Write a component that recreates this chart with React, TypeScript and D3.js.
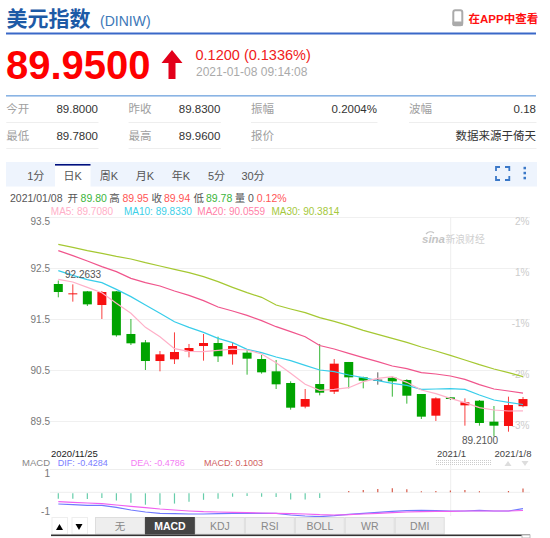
import React from "react";
import * as d3 from "d3";

const opens = [92.196,92.013,92.052,91.784,92.052,91.216,91.052,90.686,90.719,90.876,90.980,91.039,90.817,90.850,90.725,90.484,90.255,89.791,90.235,90.085,90.667,90.366,90.320,90.359,90.314,90.039,89.614,89.974,89.817,89.908,89.497,89.412,89.80];
const closes = [92.039,92.013,91.797,92.039,91.190,91.033,90.686,90.817,90.863,90.941,91.039,90.778,90.980,90.732,90.464,90.229,89.771,89.941,90.065,90.634,90.366,90.301,90.320,90.287,90.006,89.595,89.954,89.941,89.876,89.471,89.418,89.823,89.94];
const highs = [92.2633,92.189,92.059,92.059,92.059,91.510,91.098,90.882,91.248,91.020,91.216,91.163,91.046,90.902,90.804,90.706,90.288,90.137,91.020,90.725,90.667,90.379,90.464,90.379,90.327,90.039,89.974,89.980,89.954,89.921,89.804,89.987,89.98];
const lows = [91.935,91.850,91.765,91.510,91.163,91.0,90.510,90.484,90.627,90.758,90.693,90.667,90.614,90.418,90.438,90.137,89.732,89.758,90.013,90.039,90.150,90.150,90.222,89.987,89.850,89.549,89.510,89.921,89.418,89.418,89.21,89.300,89.78];
const ma5 = [92.288,92.235,92.131,92.026,91.817,91.621,91.346,91.163,90.928,90.876,90.869,90.895,90.921,90.902,90.824,90.654,90.444,90.229,90.111,90.131,90.163,90.281,90.346,90.379,90.268,90.118,90.046,89.954,89.869,89.771,89.725,89.706,89.708];
const ma10 = [92.457,92.366,92.281,92.222,92.091,91.948,91.784,91.621,91.457,91.346,91.248,91.131,91.046,90.915,90.850,90.765,90.693,90.601,90.510,90.477,90.412,90.359,90.301,90.248,90.209,90.131,90.137,90.144,90.131,90.020,89.921,89.876,89.833];
const ma20 = [92.850,92.752,92.647,92.536,92.438,92.307,92.222,92.157,92.059,91.974,91.869,91.745,91.667,91.582,91.477,91.359,91.261,91.163,90.990,90.921,90.837,90.752,90.673,90.588,90.536,90.457,90.431,90.392,90.327,90.222,90.137,90.098,90.056];
const ma30 = [92.974,92.915,92.850,92.797,92.738,92.686,92.614,92.549,92.484,92.418,92.340,92.242,92.131,92.026,91.935,91.784,91.706,91.634,91.536,91.464,91.379,91.288,91.209,91.131,91.052,90.961,90.882,90.797,90.706,90.614,90.529,90.457,90.381];
const macdBars = [-0.14,-0.14,-0.15,-0.12,-0.19,-0.25,-0.30,-0.30,-0.27,-0.22,-0.17,-0.14,-0.09,-0.07,-0.09,-0.10,-0.16,-0.16,-0.12,0,0.035,0.06,0.09,0.105,0.08,0.03,0.035,0.05,0.06,0.03,0,0.035,0.1003];
const dif = [-0.307,-0.325,-0.342,-0.342,-0.395,-0.465,-0.518,-0.553,-0.561,-0.570,-0.570,-0.561,-0.553,-0.553,-0.553,-0.553,-0.596,-0.623,-0.640,-0.614,-0.579,-0.553,-0.526,-0.5,-0.482,-0.474,-0.482,-0.491,-0.491,-0.474,-0.491,-0.491,-0.4284];
const dea = [-0.246,-0.263,-0.281,-0.298,-0.333,-0.368,-0.404,-0.439,-0.465,-0.491,-0.509,-0.518,-0.526,-0.535,-0.544,-0.553,-0.561,-0.570,-0.588,-0.596,-0.588,-0.570,-0.553,-0.535,-0.518,-0.509,-0.5,-0.5,-0.491,-0.491,-0.491,-0.491,-0.4786];

const priceTicks = [93.5, 92.5, 91.5, 90.5, 89.5];
const pctTicks = ["2%", "1%", "-1%", "-2%", "-3%"];
const periodTabs = ["1分", "日K", "周K", "月K", "年K", "5分", "30分"];
const indicatorTabs = ["无", "MACD", "KDJ", "RSI", "BOLL", "WR", "DMI"];
const statsRow1 = [["今开", "89.8000"], ["昨收", "89.8300"], ["振幅", "0.2004%"], ["波幅", "0.18"]];
const statsRow2 = [["最低", "89.7800"], ["最高", "89.9600"], ["报价", "数据来源于倚天"]];
const infoParts = [["2021/01/08", "#555"], ["开", "#555"], ["89.80", "#3cb43c"], ["高", "#555"], ["89.95", "#f55"], ["收", "#555"], ["89.94", "#f55"], ["低", "#555"], ["89.78", "#3cb43c"], ["量", "#555"], ["0", "#555"], ["0.12%", "#f55"]];
const infoX = [10, 67.5, 80.6, 109.3, 122.4, 151.5, 164, 193.4, 206, 234.8, 248, 256.8];
const maLabels = [["MA5: 89.7080", "#ffb0c8"], ["MA10: 89.8330", "#3ccfe8"], ["MA20: 90.0559", "#ff7fa8"], ["MA30: 90.3814", "#a5c83c"]];
const maLabelX = [50.8, 124, 197.3, 271.5];

const FONT = "'Liberation Sans', 'Noto Sans CJK SC', sans-serif";
const UP = "#f70f0f";
const DOWN = "#00a300";

const idx = d3.range(opens.length);
const x = d3.scalePoint<number>().domain(idx).range([58.3, 523]);
const y = d3.scaleLinear().domain([89.5, 93.5]).range([421.5, 217.5]);
const ym = d3.scaleLinear().domain([-0.62, 0.6]).range([515.9, 469.5]);
const priceLine = d3.line<number>().x((_, i) => x(i) as number).y((d) => y(d));
const macdLine = d3.line<number>().x((_, i) => x(i) as number).y((d) => ym(d));
const periodX = d3.scalePoint<number>().domain(d3.range(4)).range([35.7, 145]);
const tabX = d3.scaleLinear().domain([0, 7]).range([95, 444.7]);

const maSeries: [number[], string][] = [[ma30, "#a5c832"], [ma20, "#f0558c"], [ma10, "#38cdea"], [ma5, "#ffb0c8"]];

export default function App() {
  const tabCentres = [35.7, 72.7, 109, 145, 181, 216.5, 253];
  const statLabelX = [6.3, 128.6, 251, 409];
  const statValueX = [98, 220.4, 377, 536];
  const corner = "M496 171V167H500M505 167H509.3V171M509.3 176V180H505M500 180H496V176";
  return (
    <svg width={550} height={538} style={{ position: "absolute", left: 0, top: 0, fontFamily: FONT }}>
      <rect width={550} height={538} fill="#fff" />
      {/* header */}
      <text x={6.5} y={25.5} fontSize={21} fontWeight={700} fill="#1d5aa6">美元指数</text>
      <text x={100} y={25.5} fontSize={14} fill="#3d78b8">(DINIW)</text>
      <rect x={453.3} y={10.3} width={9} height={15} rx={2} fill="#fff" stroke="#aaa" strokeWidth={2} />
      <rect x={452.5} y={21.5} width={10.5} height={4.5} rx={1.5} fill="#aaa" />
      <text x={468.5} y={22.5} fontSize={11.5} fontWeight={700} fill="#f11">在APP中查看</text>
      <rect x={6} y={32.5} width={530} height={2} fill="#3a68c8" />
      <text x={6} y={79} fontSize={40} fontWeight={700} fill="#fe0000">89.9500</text>
      <path d="M172 50L182.5 63H175.5V79H168.5V63H161.5Z" fill="#e2001a" />
      <text x={195.5} y={59.5} fontSize={14.5} fill="#f02020">0.1200 (0.1336%)</text>
      <text x={196} y={76} fontSize={12} fill="#aaa">2021-01-08 09:14:08</text>
      <rect x={6} y={95} width={530} height={1.6} fill="#8ab4e4" />
      {/* stats */}
      {statsRow1.map(([l, v], i) => (
        <g key={l}>
          <text x={statLabelX[i]} y={113} fontSize={11.5} fill="#a0a0a0">{l}</text>
          <text x={statValueX[i]} y={113} fontSize={11.5} fill="#333" textAnchor="end">{v}</text>
          <rect x={statLabelX[i]} y={122} width={statValueX[i] - statLabelX[i] + 0.5} height={1} fill="#eee" />
        </g>
      ))}
      {statsRow2.map(([l, v], i) => (
        <g key={l}>
          <text x={statLabelX[i]} y={140} fontSize={11.5} fill="#a0a0a0">{l}</text>
          <text x={i === 2 ? 536 : statValueX[i]} y={140} fontSize={11.5} fill="#333" textAnchor="end">{v}</text>
          <rect x={statLabelX[i]} y={148} width={(i === 2 ? 536 : statValueX[i]) - statLabelX[i] + 0.5} height={1} fill="#eee" />
        </g>
      ))}
      {/* period tabs */}
      <rect x={6} y={162} width={531} height={24.5} fill="#eef4fd" />
      <rect x={55} y={164.5} width={35.5} height={23} fill="#fff" />
      <rect x={55} y={164} width={35.5} height={1.6} fill="#00107f" />
      {periodTabs.map((t, i) => (
        <text key={t} x={tabCentres[i]} y={179.5} fontSize={11} fill="#555" textAnchor="middle">{t}</text>
      ))}
      <path d={corner} fill="none" stroke="#3a78c8" strokeWidth={1.8} />
      {[168, 173, 178].map((cy) => <rect key={cy} x={523.5} y={cy - 1.2} width={2.5} height={2.5} fill="#3a78c8" />)}
      {/* info rows */}
      {infoParts.map(([t, c], i) => (
        <text key={i} x={infoX[i]} y={202} fontSize={10.5} fill={c}>{t}</text>
      ))}
      {maLabels.map(([t, c], i) => (
        <text key={t} x={maLabelX[i]} y={214.5} fontSize={10} fill={c}>{t}</text>
      ))}
      {/* grid */}
      {priceTicks.map((t) => <line key={t} x1={50} x2={530} y1={y(t)} y2={y(t)} stroke="#f0f0f0" />)}
      <line x1={450.7} x2={450.7} y1={217} y2={516} stroke="#eee" />
      <line x1={50} x2={530} y1={ym(0.6)} y2={ym(0.6)} stroke="#eee" />
      <line x1={50} x2={530} y1={ym(0)} y2={ym(0)} stroke="#eee" />
      {priceTicks.map((t, i) => (
        <text key={t} x={50} y={(i === 0 ? y(t) + 3.5 : y(t)) + 3.5} fontSize={10} fill="#777" textAnchor="end">{t.toFixed(1)}</text>
      ))}
      {pctTicks.map((t, i) => (
        <text key={t} x={529.5} y={(i === 0 ? y(priceTicks[i]) + 3.5 : y(priceTicks[i]) + 4) + 3.5} fontSize={10} fill="#ccc" textAnchor="end">{t}</text>
      ))}
      {/* watermark */}
      <text x={422} y={242.5} fontSize={11.5} fontWeight={700} fontStyle="italic" fill="#c4c4c4">sina</text>
      <path d="M426 234A6 6 0 0 1 434 233" fill="none" stroke="#c4c4c4" strokeWidth={1.2} />
      <text x={445.5} y={243} fontSize={9.8} fill="#d0d0d0">新浪财经</text>
      {/* candles */}
      {idx.map((i) => {
        const up = closes[i] >= opens[i];
        const color = i === 22 ? "#333" : up ? UP : DOWN;
        const cx = x(i) as number;
        const top = y(Math.max(opens[i], closes[i]));
        const h = Math.max(1, Math.abs(y(opens[i]) - y(closes[i])));
        return (
          <g key={i}>
            <line x1={cx} x2={cx} y1={y(highs[i])} y2={y(lows[i])} stroke={color} strokeOpacity={0.8} />
            <rect x={cx - 4.5} y={top} width={9} height={h} fill={color} />
          </g>
        );
      })}
      {maSeries.map(([s, c]) => (
        <path key={c} d={priceLine(s) || ""} fill="none" stroke={c} strokeWidth={1.2} />
      ))}
      {/* extremes and dates */}
      <text x={65} y={277.5} fontSize={10} fill="#555">92.2633</text>
      <text x={462} y={444} fontSize={10} fill="#555">89.2100</text>
      <text x={51} y={456.5} fontSize={9.5} fill="#222">2020/11/25</text>
      <text x={437} y={456.5} fontSize={9.5} fill="#444">2021/1</text>
      <text x={531.5} y={456.5} fontSize={9.5} fill="#444" textAnchor="end">2021/1/8</text>
      {/* macd header */}
      <text x={50} y={465.5} fontSize={9.5} fill="#888" textAnchor="end">MACD</text>
      <text x={57.7} y={465.5} fontSize={9} fill="#7a80ff">DIF: -0.4284</text>
      <text x={130.7} y={465.5} fontSize={9} fill="#f47cf4">DEA: -0.4786</text>
      <text x={204} y={465.5} fontSize={9} fill="#d06060">MACD: 0.1003</text>
      {d3.range(436, 492, 2).map((px) => (
        <g key={px}>
          <rect x={px} y={460} width={1} height={1} fill="#ccc" />
          <rect x={px} y={462} width={1} height={1} fill="#ccc" />
          <rect x={px} y={464} width={1} height={1} fill="#ccc" />
        </g>
      ))}
      <path d="M508 461L511.5 466H504.5Z" fill="#ddd" />
      <path d="M521.5 461H528.5L525 466Z" fill="#ddd" />
      <text x={50} y={477} fontSize={10} fill="#777" textAnchor="end">1</text>
      <text x={50} y={514.5} fontSize={10} fill="#777" textAnchor="end">-1</text>
      {/* macd */}
      {idx.map((i) => {
        const v = macdBars[i];
        if (v === 0) return null;
        const cx = x(i) as number;
        return (
          <line key={i} x1={cx} x2={cx} y1={v < 0 ? ym(0) + 1 : ym(0)} y2={ym(v) + (v < 0 ? 1 : 0)}
            stroke={v < 0 ? "#66cdaa" : "#d65b4a"} strokeWidth={1.2} />
        );
      })}
      <path d={macdLine(dif) || ""} fill="none" stroke="#6f78ff" strokeWidth={1.2} />
      <path d={macdLine(dea) || ""} fill="none" stroke="#f060f0" strokeWidth={1.2} />
      {/* bottom controls */}
      <rect x={52} y={517.5} width={15.5} height={16.5} fill="#fff" stroke="#eee" />
      <rect x={72} y={517.5} width={15.5} height={16.5} fill="#fff" stroke="#eee" />
      <path d="M59.5 524L63 530H56Z" fill="#000" />
      <path d="M75.5 524H82.5L79 530Z" fill="#000" />
      {indicatorTabs.map((t, i) => {
        const x0 = tabX(i);
        const active = t === "MACD";
        return (
          <g key={t}>
            <rect x={x0 + 0.5} y={517.5} width={tabX(1) - tabX(0) - 1} height={16.5}
              fill={active ? "#444" : "#eee"} stroke={active ? "#444" : "#ddd"} />
            <text x={x0 + 25} y={530} fontSize={10.5} fontWeight={active ? 700 : 400}
              fill={active ? "#fff" : "#888"} textAnchor="middle">{t}</text>
          </g>
        );
      })}
      <rect x={51} y={534.5} width={479} height={1.6} fill="#333" />
      <rect x={522} y={535} width={8} height={3} fill="#fff" stroke="#bbb" />
    </svg>
  );
}
